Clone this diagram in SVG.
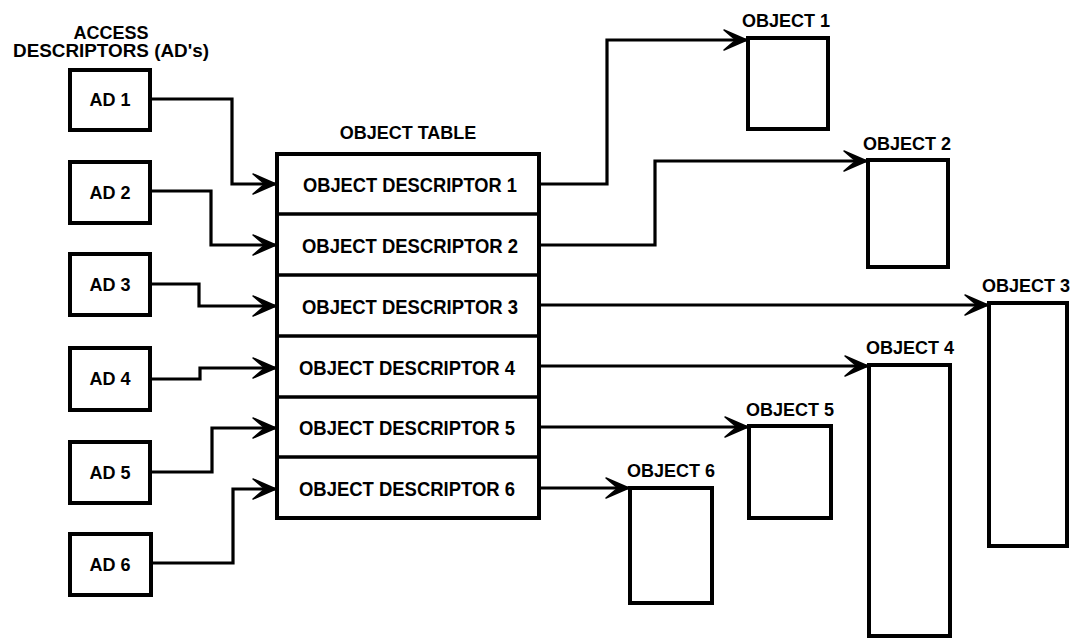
<svg xmlns="http://www.w3.org/2000/svg" width="1079" height="639" viewBox="0 0 1079 639">
  <defs>
    <marker id="arrow" viewBox="-24 -11 26 22" refX="0" refY="0" markerWidth="26" markerHeight="22" markerUnits="userSpaceOnUse" orient="auto">
      <path d="M0,0 L-23,-10 Q-15,-3 -11,0 Q-15,3 -23,10 Z" fill="#000" stroke="#000" stroke-width="1.5" stroke-linejoin="round"/>
    </marker>
    <style>
      .box { fill: #fff; stroke: #000; stroke-width: 4; }
      .row { fill: none; stroke: #000; stroke-width: 3.5; }
      .wire { fill: none; stroke: #000; stroke-width: 3.2; stroke-linejoin: miter; marker-end: url(#arrow); }
      .lbl { font-family: "Liberation Sans", Arial, sans-serif; font-weight: bold; fill: #000; text-anchor: middle; }
      .ad { font-size: 18px; }
      .od { font-size: 20.5px; }
      .ttl { font-size: 18px; }
      .obj { font-size: 18px; }
    </style>
  </defs>
  <rect width="1079" height="639" fill="#fff"/>

  <!-- heading over the access descriptors -->
  <g id="ad-heading">
    <text class="lbl ttl" x="111" y="39">ACCESS</text>
    <text class="lbl ttl" x="111" y="57" font-size="18.5" textLength="196" lengthAdjust="spacingAndGlyphs">DESCRIPTORS (AD's)</text>
  </g>

  <!-- access descriptors -->
  <g id="ad1"><rect class="box" x="70" y="70" width="80" height="60"/><text class="lbl ad" x="110" y="106">AD 1</text></g>
  <g id="ad2"><rect class="box" x="70" y="162" width="80" height="61"/><text class="lbl ad" x="110" y="199">AD 2</text></g>
  <g id="ad3"><rect class="box" x="70" y="254" width="80" height="61"/><text class="lbl ad" x="110" y="291">AD 3</text></g>
  <g id="ad4"><rect class="box" x="70" y="348" width="80" height="62"/><text class="lbl ad" x="110" y="385">AD 4</text></g>
  <g id="ad5"><rect class="box" x="70" y="442" width="80" height="61"/><text class="lbl ad" x="110" y="479">AD 5</text></g>
  <g id="ad6"><rect class="box" x="70" y="534" width="81" height="61"/><text class="lbl ad" x="110" y="571">AD 6</text></g>

  <!-- object table with six descriptor rows -->
  <g id="object-table">
    <text class="lbl ttl" x="408" y="139">OBJECT TABLE</text>
    <rect class="box" x="277" y="154" width="262" height="364"/>
    <line class="row" x1="277" y1="214" x2="539" y2="214"/>
    <line class="row" x1="277" y1="275" x2="539" y2="275"/>
    <line class="row" x1="277" y1="336" x2="539" y2="336"/>
    <line class="row" x1="277" y1="397" x2="539" y2="397"/>
    <line class="row" x1="277" y1="457" x2="539" y2="457"/>
    <text class="lbl od" x="410" y="192" textLength="214" lengthAdjust="spacingAndGlyphs">OBJECT DESCRIPTOR 1</text>
    <text class="lbl od" x="410" y="253" textLength="216" lengthAdjust="spacingAndGlyphs">OBJECT DESCRIPTOR 2</text>
    <text class="lbl od" x="410" y="314" textLength="216" lengthAdjust="spacingAndGlyphs">OBJECT DESCRIPTOR 3</text>
    <text class="lbl od" x="407" y="375" textLength="216" lengthAdjust="spacingAndGlyphs">OBJECT DESCRIPTOR 4</text>
    <text class="lbl od" x="407" y="435" textLength="216" lengthAdjust="spacingAndGlyphs">OBJECT DESCRIPTOR 5</text>
    <text class="lbl od" x="407" y="496" textLength="216" lengthAdjust="spacingAndGlyphs">OBJECT DESCRIPTOR 6</text>
  </g>

  <!-- objects -->
  <g id="object1"><text class="lbl obj" x="786" y="27">OBJECT 1</text><rect class="box" x="748" y="38" width="80" height="91"/></g>
  <g id="object2"><text class="lbl obj" x="907" y="150">OBJECT 2</text><rect class="box" x="868" y="160" width="80" height="107"/></g>
  <g id="object3"><text class="lbl obj" x="1026" y="292">OBJECT 3</text><rect class="box" x="989" y="303" width="78" height="243"/></g>
  <g id="object4"><text class="lbl obj" x="910" y="354">OBJECT 4</text><rect class="box" x="869" y="365" width="81" height="271"/></g>
  <g id="object5"><text class="lbl obj" x="790" y="416">OBJECT 5</text><rect class="box" x="749" y="426" width="82" height="92"/></g>
  <g id="object6"><text class="lbl obj" x="671" y="477">OBJECT 6</text><rect class="box" x="630" y="488" width="82" height="115"/></g>

  <!-- connectors -->
  <g id="connectors">
    <path class="wire" d="M150,99 H232 V184 H276"/>
    <path class="wire" d="M150,191 H211 V245 H276"/>
    <path class="wire" d="M150,284 H199 V306 H276"/>
    <path class="wire" d="M150,379 H200 V368 H276"/>
    <path class="wire" d="M150,472 H212 V428 H276"/>
    <path class="wire" d="M151,563 H233 V489 H276"/>

    <path class="wire" d="M539,184 H607 V40 H747"/>
    <path class="wire" d="M539,245 H655 V161 H867"/>
    <path class="wire" d="M539,305 H988"/>
    <path class="wire" d="M539,366 H868"/>
    <path class="wire" d="M539,427 H748"/>
    <path class="wire" d="M539,488 H629"/>
  </g>
</svg>
